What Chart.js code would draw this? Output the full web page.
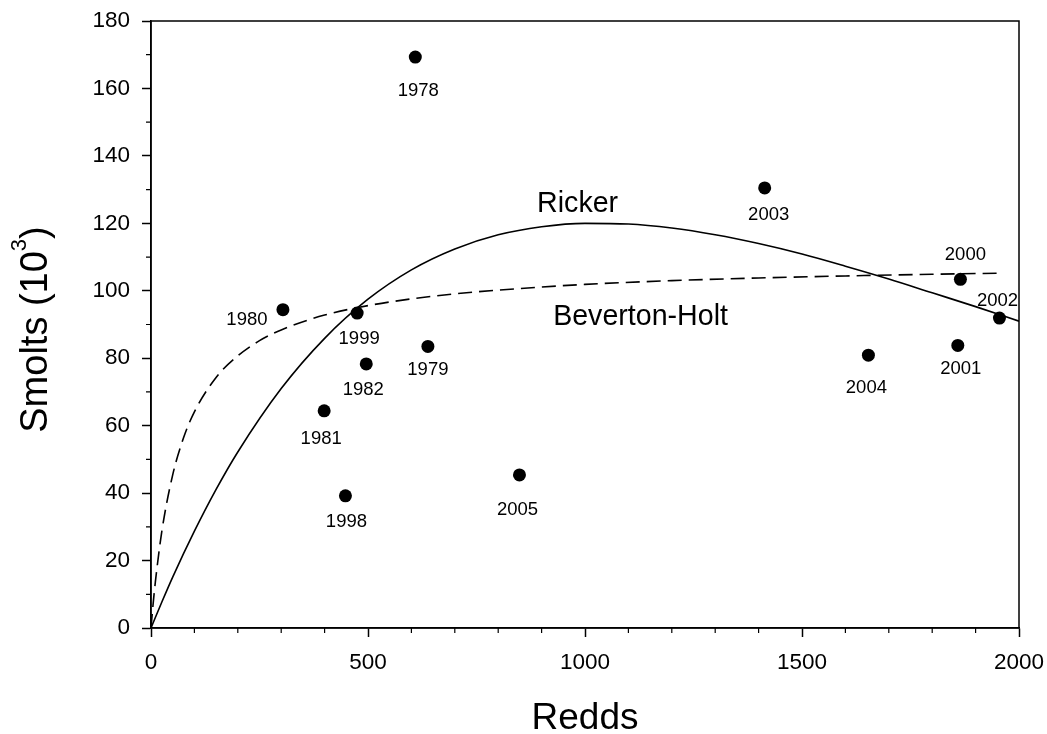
<!DOCTYPE html>
<html>
<head>
<meta charset="utf-8">
<script src="https://cdn.jsdelivr.net/npm/chart.js@4.4.1/dist/chart.umd.min.js"></script>
<style>
  html, body { margin: 0; padding: 0; background: #fff; }
  canvas { display: block; }
</style>
</head>
<body>
<canvas id="c" width="1047" height="734" style="width:1047px;height:734px"></canvas>
<script>
// ---- Data ----
const years  = ['1978','1979','1980','1981','1982','1998','1999','2000','2001','2002','2003','2004','2005'];
const redds  = [609, 638, 304, 399, 496, 448, 475, 1865, 1859, 1955, 1414, 1653, 849];
const smolts = [169.3, 83.5, 94.4, 64.4, 78.3, 39.2, 93.4, 103.4, 83.8, 91.9, 130.5, 80.9, 45.4];

// Ricker curve
const rickerX = [0, 25, 50, 100, 150, 200, 300, 400, 500, 600, 700, 800, 900, 1000, 1100, 1200, 1300, 1400, 1500, 1600, 1700, 1800, 1900, 2000];
const rickerY = [0, 7.7, 15.1, 28.7, 41.1, 52.2, 71.0, 85.9, 97.5, 106.2, 112.4, 116.6, 119.0, 120.0, 119.8, 118.6, 116.6, 114.0, 110.9, 107.3, 103.5, 99.4, 95.3, 91.0];

// Beverton-Holt curve
const bhX = [0, 5, 10, 25, 50, 75, 100, 150, 200, 250, 300, 400, 500, 600, 700, 800, 1000, 1200, 1400, 1600, 1800, 1950];
const bhY = [0, 7.3, 13.6, 28.7, 45.4, 56.4, 64.1, 74.3, 80.7, 85.2, 88.4, 92.8, 95.6, 97.6, 99.1, 100.2, 101.9, 103.0, 103.8, 104.4, 104.9, 105.2];

// Axis ticks
const xTickStep = 500, xMinorStep = 100, xMin = 0, xMax = 2000;
const yTickStep = 20,  yMinorStep = 10,  yMin = 0, yMax = 180;

// Curve labels (in data coordinates)
const curveLabels = [
  { text: 'Ricker',        x: 983,  y: 123.5 },
  { text: 'Beverton-Holt', x: 1128, y: 89.9 }
];

// Year label offsets (pixels, relative to the point) – styling only
const labelOffsets = {
  '1978': [3, 32], '1979': [0, 22], '1980': [-36, 9], '1981': [-3, 27], '1982': [-3, 24],
  '1998': [1, 25], '1999': [2, 24], '2000': [5, -26], '2001': [3, 22], '2002': [-2, -19],
  '2003': [4, 25], '2004': [-2, 31], '2005': [-2, 33]
};

const FONT = "'Liberation Sans', Arial, Helvetica, sans-serif";

const framePlugin = {
  id: 'frame',
  afterDraw(chart) {
    const { ctx, chartArea: a, scales } = chart;
    ctx.save();
    ctx.strokeStyle = '#000';
    ctx.lineWidth = 1.5;
    ctx.strokeRect(a.left, a.top, a.right - a.left, a.bottom - a.top);
    // minor ticks
    ctx.lineWidth = 1.2;
    ctx.beginPath();
    for (let v = xMin + xMinorStep; v < xMax; v += xMinorStep) {
      if (v % xTickStep === 0) continue;
      const px = scales.x.getPixelForValue(v);
      ctx.moveTo(px, a.bottom);
      ctx.lineTo(px, a.bottom + 5);
    }
    for (let v = yMin + yMinorStep; v < yMax; v += yMinorStep) {
      if (v % yTickStep === 0) continue;
      const py = scales.y.getPixelForValue(v);
      ctx.moveTo(a.left, py);
      ctx.lineTo(a.left - 5, py);
    }
    ctx.stroke();

    // year labels
    ctx.fillStyle = '#000';
    ctx.font = '18.5px ' + FONT;
    ctx.textAlign = 'center';
    ctx.textBaseline = 'alphabetic';
    const meta = chart.getDatasetMeta(2);
    meta.data.forEach((el, i) => {
      const off = labelOffsets[years[i]] || [0, 25];
      ctx.fillText(years[i], el.x + off[0], el.y + off[1] + 6.6);
    });

    // curve labels
    ctx.font = '28.6px ' + FONT;
    curveLabels.forEach(l => {
      ctx.fillText(l.text, scales.x.getPixelForValue(l.x), scales.y.getPixelForValue(l.y));
    });

    // axis titles
    const cx = (a.left + a.right) / 2;
    ctx.font = '37px ' + FONT;
    ctx.fillText('Redds', cx, 729);

    const cy = (a.top + a.bottom) / 2 + 5;
    ctx.save();
    ctx.translate(46.7, cy);
    ctx.rotate(-Math.PI / 2);
    ctx.textAlign = 'left';
    const t1 = 'Smolts (10', t2 = '3', t3 = ')';
    ctx.font = '38px ' + FONT;
    const w1 = ctx.measureText(t1).width;
    const w3 = ctx.measureText(t3).width;
    ctx.font = '22px ' + FONT;
    const w2 = ctx.measureText(t2).width;
    const W = w1 + w2 + w3;
    let sx = -W / 2;
    ctx.font = '38px ' + FONT;
    ctx.fillText(t1, sx, 0);
    sx += w1;
    ctx.font = '22px ' + FONT;
    ctx.fillText(t2, sx, -21);
    sx += w2;
    ctx.font = '38px ' + FONT;
    ctx.fillText(t3, sx, 0);
    ctx.restore();

    ctx.restore();
  }
};

new Chart(document.getElementById('c'), {
  type: 'scatter',
  data: {
    datasets: [
      {
        label: 'Ricker',
        data: rickerX.map((x, i) => ({ x, y: rickerY[i] })),
        showLine: true,
        borderColor: '#000',
        borderWidth: 1.6,
        pointRadius: 0,
        cubicInterpolationMode: 'monotone',
        fill: false
      },
      {
        label: 'Beverton-Holt',
        data: bhX.map((x, i) => ({ x, y: bhY[i] })),
        showLine: true,
        borderColor: '#000',
        borderWidth: 1.6,
        borderDash: [14, 7],
        pointRadius: 0,
        cubicInterpolationMode: 'monotone',
        fill: false
      },
      {
        label: 'Observed',
        data: redds.map((x, i) => ({ x, y: smolts[i] })),
        showLine: false,
        pointRadius: 6.5,
        pointBackgroundColor: '#000',
        pointBorderColor: '#000',
        pointBorderWidth: 0
      }
    ]
  },
  options: {
    responsive: false,
    devicePixelRatio: 1,
    animation: false,
    layout: { padding: { left: 0, top: 21, right: 28, bottom: 0 } },
    plugins: { legend: { display: false }, tooltip: { enabled: false } },
    scales: {
      x: {
        type: 'linear',
        min: xMin, max: xMax,
        afterFit(s) { s.height = 106; s.paddingLeft = 0; s.paddingRight = 0; },
        ticks: { stepSize: xTickStep, color: '#000', padding: 12, font: { family: FONT, size: 22.5 },
                 callback: v => String(v) },
        grid: { drawOnChartArea: false, drawTicks: true, tickLength: 9, tickWidth: 1.5, tickColor: '#000', color: '#000' },
        border: { display: true, color: '#000', width: 1.5 }
      },
      y: {
        type: 'linear',
        min: yMin, max: yMax,
        afterFit(s) { s.width = 151; s.paddingTop = 0; s.paddingBottom = 0; },
        ticks: { stepSize: yTickStep, color: '#000', padding: 12, font: { family: FONT, size: 22.5 },
                 callback: v => String(v) },
        grid: { drawOnChartArea: false, drawTicks: true, tickLength: 9, tickWidth: 1.5, tickColor: '#000', color: '#000' },
        border: { display: true, color: '#000', width: 1.5 }
      }
    }
  },
  plugins: [framePlugin]
});
</script>
</body>
</html>
